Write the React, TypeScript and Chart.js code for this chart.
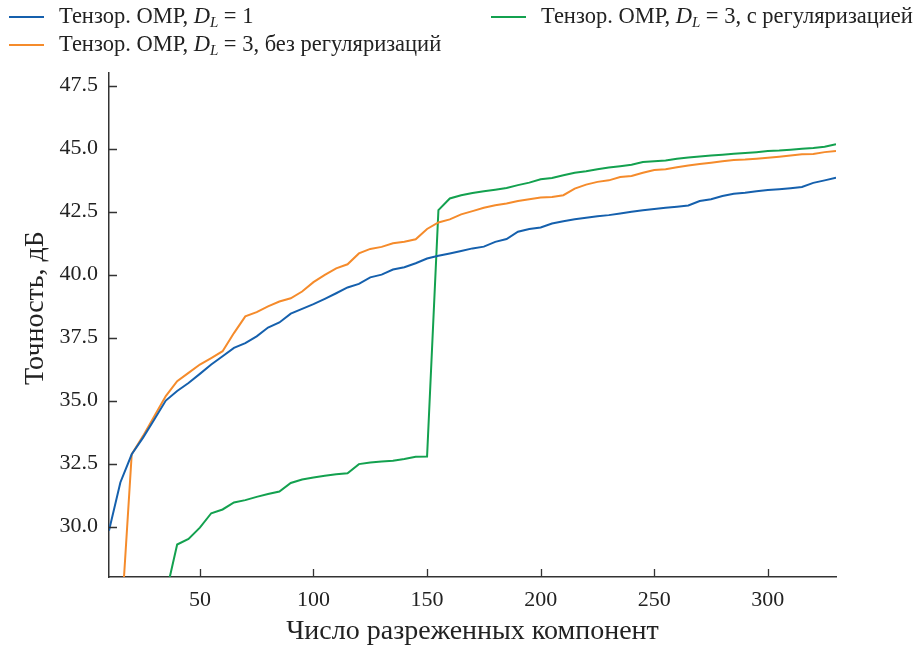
import React, { useEffect, useRef } from "react";
import { Chart, registerables } from "chart.js";

Chart.register(...registerables);

const xValues = [
  10, 15, 20, 25, 30, 35, 40, 45, 50, 55, 60, 65, 70, 75, 80, 85, 90, 95, 100,
  105, 110, 115, 120, 125, 130, 135, 140, 145, 150, 155, 160, 165, 170, 175, 180,
  185, 190, 195, 200, 205, 210, 215, 220, 225, 230, 235, 240, 245, 250, 255, 260,
  265, 270, 275, 280, 285, 290, 295, 300, 305, 310, 315, 320, 325, 330,
];

const ompD1 = [
  29.84, 31.75, 32.87, 33.53, 34.26, 35.0, 35.38, 35.7, 36.06, 36.43, 36.76, 37.09, 37.28,
  37.55, 37.9, 38.1, 38.45, 38.64, 38.83, 39.04, 39.26, 39.49, 39.63, 39.89, 40.0, 40.2,
  40.29, 40.45, 40.64, 40.75, 40.84, 40.94, 41.04, 41.11, 41.3, 41.41, 41.7, 41.81, 41.87,
  42.03, 42.12, 42.2, 42.26, 42.32, 42.36, 42.42, 42.49, 42.55, 42.6, 42.65, 42.69, 42.74,
  42.92, 42.99, 43.12, 43.21, 43.25, 43.31, 43.36, 43.39, 43.43, 43.48, 43.64, 43.74, 43.84,
];

const ompD3NoReg = [
  20.0, 25.7, 32.87, 33.6, 34.39, 35.18, 35.77, 36.1, 36.43, 36.69, 36.96, 37.68, 38.34,
  38.51, 38.74, 38.93, 39.06, 39.33, 39.7, 39.99, 40.25, 40.41, 40.84, 41.02, 41.1, 41.24,
  41.3, 41.4, 41.81, 42.07, 42.19, 42.39, 42.52, 42.65, 42.75, 42.82, 42.92, 42.99, 43.06,
  43.08, 43.15, 43.41, 43.57, 43.68, 43.74, 43.87, 43.91, 44.04, 44.15, 44.18, 44.26, 44.33,
  44.39, 44.44, 44.5, 44.55, 44.57, 44.6, 44.64, 44.68, 44.73, 44.78, 44.79, 44.86, 44.9,
];

const ompD3Reg = [
  20.0, 22.0, 23.5, 25.0, 26.2, 27.3, 29.29, 29.51, 29.96, 30.53, 30.68, 30.96, 31.05,
  31.18, 31.29, 31.39, 31.73, 31.87, 31.95, 32.02, 32.08, 32.12, 32.48, 32.54, 32.58, 32.61,
  32.68, 32.77, 32.78, 42.56, 43.02, 43.15, 43.24, 43.31, 43.37, 43.44, 43.55, 43.65, 43.78,
  43.83, 43.94, 44.04, 44.1, 44.18, 44.25, 44.3, 44.36, 44.47, 44.5, 44.53, 44.6, 44.65,
  44.69, 44.73, 44.76, 44.8, 44.83, 44.86, 44.9, 44.92, 44.95, 44.99, 45.02, 45.07, 45.17,
];

const xTicks = [50, 100, 150, 200, 250, 300];
const yTicks = [30, 32.5, 35, 37.5, 40, 42.5, 45, 47.5];

const seriesLabels = [
  "Тензор. ОМР, D_L = 1",
  "Тензор. ОМР, D_L = 3, без регуляризаций",
  "Тензор. ОМР, D_L = 3, с регуляризацией",
];
const legendSuffixes = [" = 1", " = 3, без регуляризаций", " = 3, с регуляризацией"];
const seriesColors = ["#1560ad", "#f58b2b", "#13a14f"];

const xTitle = "Число разреженных компонент";
const yTitle = "Точность, дБ";

const FONT = "'Liberation Serif', 'Times New Roman', serif";

const axisDecor = {
  id: "axisDecor",
  afterDraw(chart: any) {
    const ctx = chart.ctx;
    const { left, bottom } = chart.chartArea;
    const xs = chart.scales.x;
    const ys = chart.scales.y;
    ctx.save();
    ctx.strokeStyle = "#333";
    ctx.lineWidth = 1.3;
    ctx.beginPath();
    for (const t of xs.ticks) {
      const px = Math.round(xs.getPixelForValue(t.value)) + 0.5;
      ctx.moveTo(px, bottom);
      ctx.lineTo(px, bottom - 8);
    }
    for (const t of ys.ticks) {
      const py = Math.round(ys.getPixelForValue(t.value)) + 0.5;
      ctx.moveTo(left, py);
      ctx.lineTo(left + 8, py);
    }
    ctx.stroke();
    // y-axis title
    ctx.translate(36, 308);
    ctx.rotate(-Math.PI / 2);
    ctx.font = "28px " + FONT;
    ctx.fillStyle = "#222";
    ctx.textAlign = "center";
    ctx.textBaseline = "middle";
    ctx.fillText(yTitle, 0, 0);
    ctx.restore();
  },
};

function LegendItem({ idx, x, y }: { idx: number; x: number; y: number }) {
  return (
    <div style={{ position: "absolute", left: x, top: y - 16, height: 32, display: "flex", alignItems: "center" }}>
      <div style={{ width: 35, height: 2, background: seriesColors[idx], marginRight: 15 }} />
      <span
        title={seriesLabels[idx]}
        style={{
          fontFamily: FONT,
          fontSize: 22.5,
          color: "#222",
          whiteSpace: "nowrap",
          lineHeight: "32px",
          position: "relative",
          top: 2,
        }}
      >
        Тензор. ОМР, <i>D</i>
        <sub style={{ fontSize: 15, fontStyle: "italic", verticalAlign: "-4px" }}>L</sub>
        {legendSuffixes[idx]}
      </span>
    </div>
  );
}

export default function App() {
  const canvasRef = useRef<HTMLCanvasElement | null>(null);

  useEffect(() => {
    const canvas = canvasRef.current;
    if (!canvas) return;
    const datasets = [ompD1, ompD3NoReg, ompD3Reg].map((vals, i) => ({
      label: seriesLabels[i],
      data: xValues.map((x, j) => ({ x, y: vals[j] })),
      borderColor: seriesColors[i],
      backgroundColor: seriesColors[i],
      borderWidth: 2,
      pointRadius: 0,
      tension: 0,
      fill: false,
    }));
    const chart = new Chart(canvas, {
      type: "line",
      data: { datasets },
      plugins: [axisDecor],
      options: {
        responsive: false,
        animation: false,
        devicePixelRatio: 1,
        layout: { padding: { left: 0, right: 80, top: 73, bottom: 0 } },
        plugins: { legend: { display: false }, tooltip: { enabled: false } },
        scales: {
          x: {
            type: "linear",
            min: 10,
            max: 330,
            afterBuildTicks: (s: any) => {
              s.ticks = xTicks.map((v) => ({ value: v }));
            },
            afterFit: (s: any) => {
              s.height = 71;
            },
            grid: { display: false, drawTicks: false },
            border: { display: true, color: "#333", width: 1.5 },
            ticks: {
              font: { family: FONT, size: 22 },
              color: "#222",
              padding: 10,
              maxRotation: 0,
              callback: (v: any) => String(v),
            },
            title: {
              display: true,
              text: xTitle,
              font: { family: FONT, size: 28 },
              color: "#222",
              padding: { top: 0, bottom: 0 },
            },
          },
          y: {
            type: "linear",
            min: 28,
            max: 48,
            afterBuildTicks: (s: any) => {
              s.ticks = yTicks.map((v) => ({ value: v }));
            },
            afterFit: (s: any) => {
              s.width = 109;
            },
            grid: { display: false, drawTicks: false },
            border: { display: true, color: "#333", width: 1.5 },
            ticks: {
              font: { family: FONT, size: 22 },
              color: "#222",
              padding: 11,
              callback: (v: any) => Number(v).toFixed(1),
            },
            title: { display: false },
          },
        },
      },
    });
    return () => chart.destroy();
  }, []);

  return (
    <div style={{ position: "fixed", left: 0, top: 0, width: 916, height: 648, background: "#fff" }}>
      <canvas ref={canvasRef} width={916} height={648} style={{ position: "absolute", left: 0, top: 0 }} />
      <LegendItem idx={0} x={9} y={17} />
      <LegendItem idx={1} x={9} y={45} />
      <LegendItem idx={2} x={491} y={17} />
    </div>
  );
}
